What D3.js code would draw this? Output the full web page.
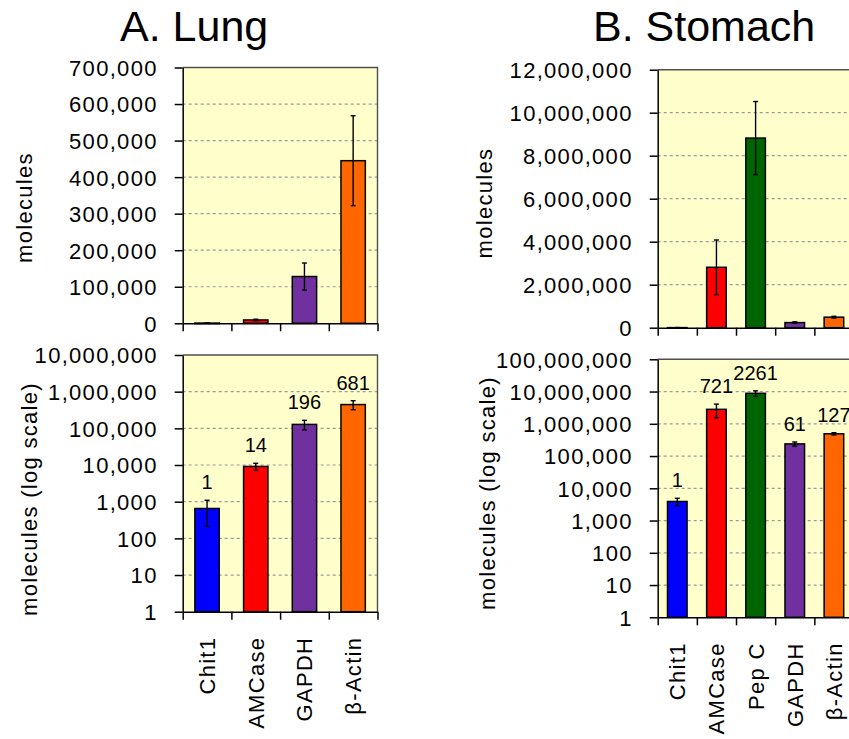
<!DOCTYPE html>
<html><head><meta charset="utf-8">
<script src="https://cdn.jsdelivr.net/npm/d3@7"></script>
<style>
body{margin:0;background:#fff}
svg text{font-family:"Liberation Sans",Arial,Helvetica,sans-serif;fill:#000}
</style>
</head><body>
<svg id="chart" width="849" height="739"></svg>
<script>
// ---- data ----
const lungGenes = ["Chit1", "AMCase", "GAPDH", "β-Actin"];
const lungMeans = [653, 9150, 128000, 445000];
const lungErrors = [440, 2000, 37000, 123000];
const lungFold = ["1", "14", "196", "681"];

const stomachGenes = ["Chit1", "AMCase", "Pep C", "GAPDH", "β-Actin"];
const stomachMeans = [3900, 2810000, 8820000, 238000, 490000];
const stomachErrors = [1000, 1270000, 1700000, 35000, 40000];
const stomachFold = ["1", "721", "2261", "61", "127"];

const geneColors = {"Chit1": "#0000FF", "AMCase": "#FF0000", "Pep C": "#006400", "GAPDH": "#7030A0", "β-Actin": "#FF6600"};

const lungLinearTicks = [0, 100000, 200000, 300000, 400000, 500000, 600000, 700000];
const stomachLinearTicks = [0, 2000000, 4000000, 6000000, 8000000, 10000000, 12000000];
const lungLogTicks = [1, 10, 100, 1000, 10000, 100000, 1000000, 10000000];
const stomachLogTicks = [1, 10, 100, 1000, 10000, 100000, 1000000, 10000000, 100000000];

const panelTitles = ["A. Lung", "B. Stomach"];
const yTitleLinear = "molecules";
const yTitleLog = "molecules (log scale)";

// ---- drawing ----
const svg = d3.select("#chart");
const fmt = d3.format(",");

function panel(o) {
  const g = svg.append("g");
  const n = o.genes.length;
  const x = d3.scaleBand().domain(o.genes).range([o.x0, o.x1]).paddingInner(0.5).paddingOuter(0.25);
  const xb = d3.scaleLinear().domain([0, n]).range([o.x0, o.x1]);
  const y = o.log
    ? d3.scaleLog().domain([o.ticks[0], o.ticks[o.ticks.length - 1]]).range([o.y1, o.y0])
    : d3.scaleLinear().domain([o.ticks[0], o.ticks[o.ticks.length - 1]]).range([o.y1, o.y0]);

  g.append("rect").attr("x", o.x0).attr("y", o.y0).attr("width", o.x1 - o.x0).attr("height", o.y1 - o.y0)
    .attr("fill", "#FFFFCC");

  g.selectAll(".grid").data(o.ticks.slice(1, -1)).enter().append("line")
    .attr("x1", o.x0).attr("x2", o.x1).attr("y1", d => y(d)).attr("y2", d => y(d))
    .attr("stroke", "#9a9a9a").attr("stroke-width", 1.2).attr("stroke-dasharray", "3,3");

  // frame top & right
  g.append("path").attr("d", `M${o.x0},${o.y0}H${o.x1}V${o.y1}`)
    .attr("fill", "none").attr("stroke", "#505050").attr("stroke-width", 1.4);

  const rows = o.genes.map((gname, i) => ({g: gname, m: o.means[i], e: o.errs[i], f: o.fold ? o.fold[i] : null}));
  const base = o.log ? o.ticks[0] : 0;

  g.selectAll(".bar").data(rows).enter().append("rect")
    .attr("x", d => x(d.g)).attr("width", x.bandwidth())
    .attr("y", d => y(d.m)).attr("height", d => Math.max(0.5, y(base) - y(d.m)))
    .attr("fill", d => geneColors[d.g]).attr("stroke", "#000").attr("stroke-width", 1.5);

  const cap = 2.5;
  const eb = g.selectAll(".err").data(rows).enter().append("g").attr("stroke", "#000").attr("stroke-width", 1.4);
  eb.append("line").attr("x1", d => x(d.g) + x.bandwidth() / 2).attr("x2", d => x(d.g) + x.bandwidth() / 2)
    .attr("y1", d => y(d.m + d.e)).attr("y2", d => y(Math.max(d.m - d.e, o.log ? 1 : 0)));
  eb.append("line").attr("x1", d => x(d.g) + x.bandwidth() / 2 - cap).attr("x2", d => x(d.g) + x.bandwidth() / 2 + cap)
    .attr("y1", d => y(d.m + d.e)).attr("y2", d => y(d.m + d.e));
  eb.append("line").attr("x1", d => x(d.g) + x.bandwidth() / 2 - cap).attr("x2", d => x(d.g) + x.bandwidth() / 2 + cap)
    .attr("y1", d => y(Math.max(d.m - d.e, o.log ? 1 : 0))).attr("y2", d => y(Math.max(d.m - d.e, o.log ? 1 : 0)));

  if (o.fold) {
    g.selectAll(".fold").data(rows).enter().append("text")
      .attr("x", d => x(d.g) + x.bandwidth() / 2).attr("y", d => y(d.m + d.e) - 11)
      .attr("text-anchor", "middle").style("font-size", "20px").text(d => d.f);
  }

  // left axis
  const ya = g.append("g").attr("transform", `translate(${o.x0},0)`)
    .call(d3.axisLeft(y).tickValues(o.ticks).tickFormat(fmt).tickSizeInner(8).tickSizeOuter(0).tickPadding(17));
  ya.select(".domain").attr("stroke", "#000").attr("stroke-width", 1.5);
  ya.selectAll(".tick line").attr("stroke", "#000").attr("stroke-width", 1.5);
  ya.selectAll(".tick text").attr("font-family", null).style("font-size", "22px").style("letter-spacing", "1.3px").attr("dy", "0.36em");

  // bottom axis
  const xa = g.append("g").attr("transform", `translate(0,${o.y1})`)
    .call(d3.axisBottom(xb).tickValues(d3.range(n + 1)).tickFormat("").tickSizeInner(8).tickSizeOuter(0));
  xa.select(".domain").attr("stroke", "#000").attr("stroke-width", 1.5);
  xa.selectAll(".tick line").attr("stroke", "#000").attr("stroke-width", 1.5);

  if (o.showLabels) {
    g.selectAll(".glab").data(rows).enter().append("text")
      .attr("transform", d => `translate(${x(d.g) + x.bandwidth() / 2},${o.y1 + 25}) rotate(-90)`)
      .attr("text-anchor", "end").attr("dy", "0.36em")
      .style("font-size", "22px").style("letter-spacing", "1.3px").text(d => d.g);
  }

  svg.append("text").attr("transform", `translate(${o.tx},${o.ty}) rotate(-90)`)
    .attr("text-anchor", "middle").style("font-size", "22px").style("letter-spacing", "1.3px").text(o.ytitle);
}

panel({x0: 182.7, x1: 377.5, y0: 67.5, y1: 323.3, genes: lungGenes, means: lungMeans, errs: lungErrors,
  ticks: lungLinearTicks, log: false, ytitle: yTitleLinear, tx: 32, ty: 207.5});
panel({x0: 182.7, x1: 377.5, y0: 355, y1: 611.7, genes: lungGenes, means: lungMeans, errs: lungErrors, fold: lungFold,
  ticks: lungLogTicks, log: true, ytitle: yTitleLog, tx: 37, ty: 499, showLabels: true});
panel({x0: 657.7, x1: 853.5, y0: 69.7, y1: 327.7, genes: stomachGenes, means: stomachMeans, errs: stomachErrors,
  ticks: stomachLinearTicks, log: false, ytitle: yTitleLinear, tx: 492, ty: 203});
panel({x0: 657.7, x1: 853.5, y0: 359.3, y1: 617.3, genes: stomachGenes, means: stomachMeans, errs: stomachErrors, fold: stomachFold,
  ticks: stomachLogTicks, log: true, ytitle: yTitleLog, tx: 495, ty: 493, showLabels: true});

svg.append("text").attr("x", 120).attr("y", 40.7).style("font-size", "43px").text(panelTitles[0]);
svg.append("text").attr("x", 593).attr("y", 40.7).style("font-size", "43px").text(panelTitles[1]);
</script>
</body></html>
